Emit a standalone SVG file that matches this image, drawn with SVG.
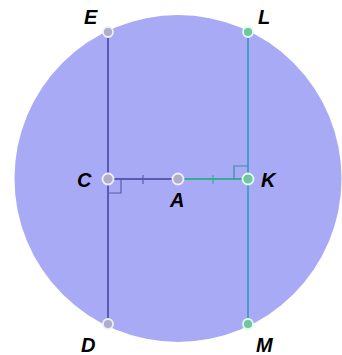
<svg xmlns="http://www.w3.org/2000/svg" width="342" height="355" viewBox="0 0 342 355">
<style>
.lbl{font-family:"Liberation Sans",Arial,sans-serif;font-size:20px;font-weight:bold;font-style:italic;fill:#000}
.pt{fill:#aeaec6;stroke:#eeeeff;stroke-width:1.8}
.ptg{fill:#74c4a0;stroke:#dcfcec;stroke-width:1.8}
.ln{fill:none;stroke-width:2}
.mk{fill:none;stroke-width:1.2}
</style>
<rect width="342" height="355" fill="#ffffff"/>
<circle id="circle" cx="178" cy="178.5" r="163.5" fill="#a9aaf5"/>
<g id="connectors">
<line class="ln" x1="108" y1="32" x2="108" y2="324" stroke="#5a5ab4"/>
<line class="ln" x1="248" y1="32" x2="248" y2="324" stroke="#4a9ccc"/>
<line class="ln" x1="108" y1="179" x2="178" y2="179" stroke="#5a5ab4"/>
<line class="ln" x1="178" y1="179" x2="248" y2="179" stroke="#36ac94"/>
<line class="mk" x1="143" y1="175" x2="143" y2="184" stroke="#5a5ab4"/>
<line class="mk" x1="213" y1="175" x2="213" y2="184" stroke="#36ac94"/>
<path class="mk" d="M108,193 H121 V179" stroke="#5a5ab4"/>
<path class="mk" d="M234,179 V166 H248" stroke="#3a8ca0"/>
</g>
<g id="E"><circle class="pt" cx="108" cy="32" r="5"/><text class="lbl" x="84" y="24">E</text></g>
<g id="L"><circle class="ptg" cx="248" cy="32" r="5"/><text class="lbl" x="258" y="24">L</text></g>
<g id="C"><circle class="pt" cx="108" cy="179" r="5.5"/><text class="lbl" x="77" y="187">C</text></g>
<g id="A"><circle class="pt" cx="178" cy="179" r="5.5"/><text class="lbl" x="170" y="207">A</text></g>
<g id="K"><circle class="ptg" cx="248" cy="179" r="5.5"/><text class="lbl" x="261" y="187">K</text></g>
<g id="D"><circle class="pt" cx="108" cy="324" r="5"/><text class="lbl" x="81" y="352">D</text></g>
<g id="M"><circle class="ptg" cx="248" cy="324" r="5"/><text class="lbl" x="256" y="352">M</text></g>
</svg>
